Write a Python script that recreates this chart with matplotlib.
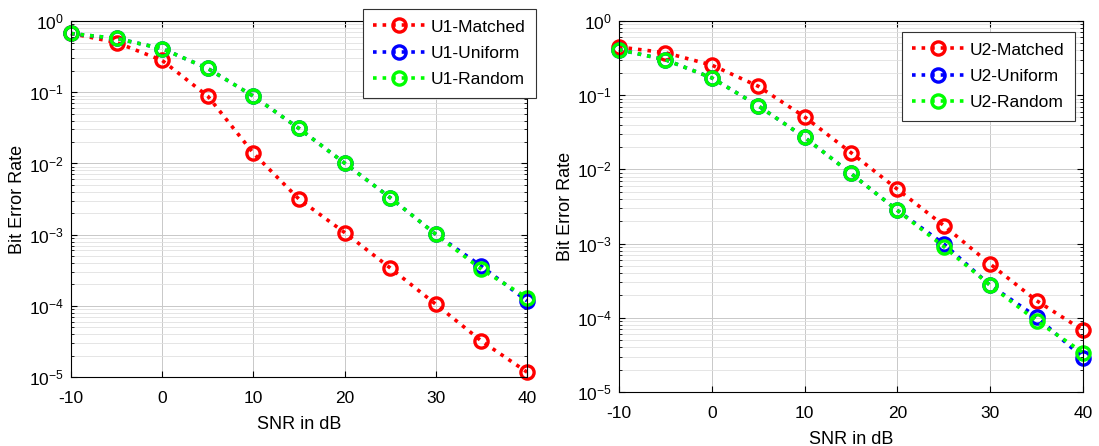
import numpy as np
import matplotlib
matplotlib.use("Agg")
import matplotlib.pyplot as plt

plt.rcParams["font.family"] = ["Liberation Sans", "DejaVu Sans"]
plt.rcParams["mathtext.fontset"] = "custom"
plt.rcParams["mathtext.rm"] = "Liberation Sans"
plt.rcParams["mathtext.it"] = "Liberation Sans"
plt.rcParams["axes.unicode_minus"] = False
plt.rcParams["font.size"] = 12.5

snr = [-10, -5, 0, 5, 10, 15, 20, 25, 30, 35, 40]

u1_matched = [0.67, 0.50, 0.28, 0.088, 0.0139, 0.00315, 0.00107, 3.4e-4, 1.05e-4, 3.2e-5, 1.17e-5]
u1_uniform = [0.67, 0.57, 0.41, 0.216, 0.088, 0.031, 0.0101, 0.0033, 0.00101, 3.6e-4, 1.17e-4]
u1_random = [0.67, 0.57, 0.41, 0.216, 0.088, 0.031, 0.0101, 0.0033, 0.00101, 3.25e-4, 1.3e-4]

u2_matched = [0.445, 0.373, 0.254, 0.132, 0.051, 0.0168, 0.0054, 0.00175, 5.3e-4, 1.7e-4, 6.8e-5]
u2_uniform = [0.41, 0.30, 0.171, 0.072, 0.027, 0.0088, 0.0028, 9.9e-4, 2.74e-4, 1.03e-4, 2.9e-5]
u2_random = [0.41, 0.30, 0.171, 0.072, 0.027, 0.0088, 0.0028, 9.1e-4, 2.74e-4, 9.1e-5, 3.4e-5]

colors = ["#ff0000", "#0000ff", "#00ff00"]

fig = plt.figure(figsize=(10.99, 4.46), dpi=100)
ax1 = fig.add_axes([0.0646, 0.1547, 0.415, 0.798])
ax2 = fig.add_axes([0.5632, 0.1211, 0.4222, 0.832])


def draw(ax, series, names, legend_anchor):
    for vals, name, c in zip(series, names, colors):
        ax.semilogy(snr, vals, linestyle=":", linewidth=2.6, color=c,
                    marker="o", markersize=9.5, markerfacecolor="none",
                    markeredgewidth=2.4, label=name, clip_on=False)
    ax.set_xlim(-10, 40)
    ax.set_ylim(1e-5, 1)
    ax.set_xticks([-10, 0, 10, 20, 30, 40])
    ax.grid(True, which="major", color="#c8c8c8", linewidth=0.7)
    ax.grid(True, which="minor", axis="y", color="#e0e0e0", linewidth=0.6)
    ax.tick_params(which="both", direction="in", top=True, right=True)
    ax.tick_params(which="major", length=4, labelsize=12.5)
    ax.tick_params(axis="x", which="major", pad=10)
    ax.tick_params(axis="y", which="major", pad=5)
    ax.tick_params(which="minor", length=2)
    ax.set_xlabel("SNR in dB", fontsize=13, labelpad=7)
    ax.set_ylabel("Bit Error Rate", fontsize=13, labelpad=2)
    for s in ax.spines.values():
        s.set_linewidth(0.8)
    leg = ax.legend(loc="upper left", bbox_to_anchor=legend_anchor,
                    bbox_transform=fig.transFigure, fontsize=12.5,
                    handlelength=3.0, handletextpad=0.3, fancybox=False,
                    framealpha=1, edgecolor="#333333", borderpad=0.6,
                    labelspacing=0.65, borderaxespad=0)
    leg.get_frame().set_linewidth(0.8)


draw(ax1, [u1_matched, u1_uniform, u1_random],
     ["U1-Matched", "U1-Uniform", "U1-Random"], (363 / 1099, 1 - 9 / 446))
draw(ax2, [u2_matched, u2_uniform, u2_random],
     ["U2-Matched", "U2-Uniform", "U2-Random"], (902 / 1099, 1 - 32 / 446))

fig.savefig("out.png", dpi=100)
